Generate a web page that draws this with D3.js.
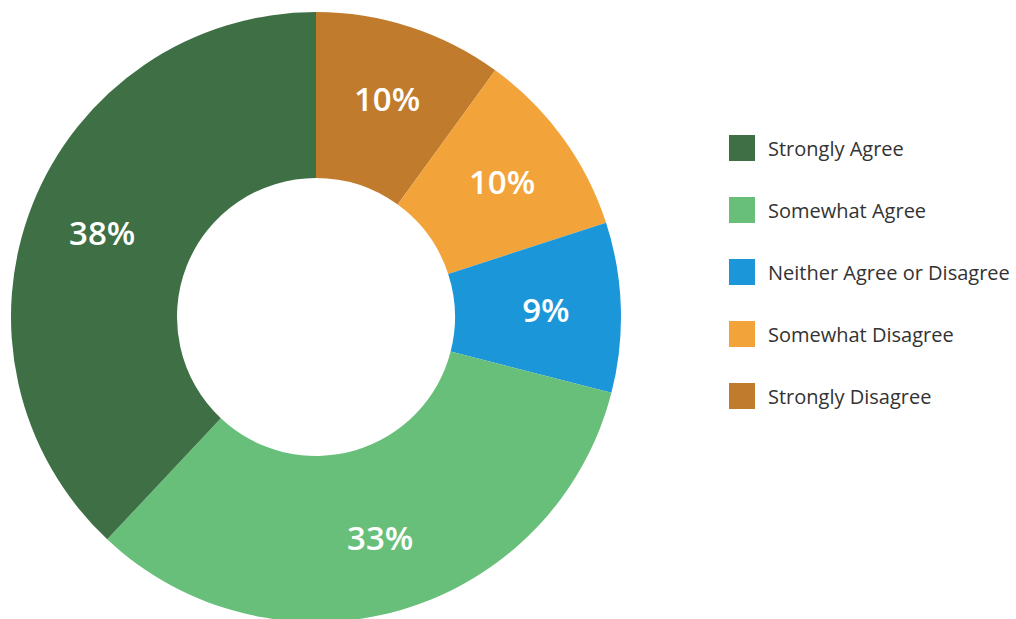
<!DOCTYPE html>
<html>
<head>
<meta charset="utf-8">
<script src="https://cdn.jsdelivr.net/npm/d3@7/dist/d3.min.js"></script>
<style>
  html, body { margin: 0; padding: 0; background: #fff; }
  svg { display: block; }
</style>
</head>
<body>
<svg id="chart" width="1016" height="619"></svg>
<script>
// Data (clockwise from 12 o'clock)
const categories = ["Strongly Disagree", "Somewhat Disagree", "Neither Agree or Disagree", "Somewhat Agree", "Strongly Agree"];
const values = [10, 10, 9, 33, 38];
const colors = ["#c17b2c", "#f2a43a", "#1b97d9", "#68bf7a", "#3e6f45"];
const legendOrder = ["Strongly Agree", "Somewhat Agree", "Neither Agree or Disagree", "Somewhat Disagree", "Strongly Disagree"];

const svg = d3.select("#chart");
const cx = 316, cy = 317, outerR = 305, innerR = 139, labelR = 230;

const color = d3.scaleOrdinal().domain(categories).range(colors);
const data = categories.map((c, i) => ({ category: c, value: values[i] }));

const pie = d3.pie().value(d => d.value).sort(null);
const arc = d3.arc().innerRadius(innerR).outerRadius(outerR);
const labelArc = d3.arc().innerRadius(labelR).outerRadius(labelR);

const g = svg.append("g").attr("transform", `translate(${cx},${cy})`);
const arcs = pie(data);

g.selectAll("path.slice")
  .data(arcs)
  .join("path")
  .attr("class", "slice")
  .attr("d", arc)
  .attr("fill", d => color(d.data.category));

g.selectAll("text.pct")
  .data(arcs)
  .join("text")
  .attr("class", "pct")
  .attr("transform", d => `translate(${labelArc.centroid(d)})`)
  .attr("text-anchor", "middle")
  .attr("dominant-baseline", "central")
  .attr("fill", "#ffffff")
  .style("font-family", "'Open Sans', sans-serif")
  .style("font-weight", 600)
  .style("font-size", "33px")
  .text(d => d.data.value + "%");

// Legend
const legend = svg.append("g").attr("transform", "translate(729,135)");
const rowY = d3.scalePoint().domain(legendOrder).range([0, 248]);
const items = legend.selectAll("g.item")
  .data(legendOrder)
  .join("g")
  .attr("class", "item")
  .attr("transform", d => `translate(0,${rowY(d)})`);
items.append("rect")
  .attr("width", 26).attr("height", 26)
  .attr("fill", d => color(d));
items.append("text")
  .attr("x", 39).attr("y", 13)
  .attr("dominant-baseline", "central")
  .attr("fill", "#333333")
  .style("font-family", "'Open Sans', sans-serif")
  .style("font-size", "20px")
  .text(d => d);
</script>
</body>
</html>
